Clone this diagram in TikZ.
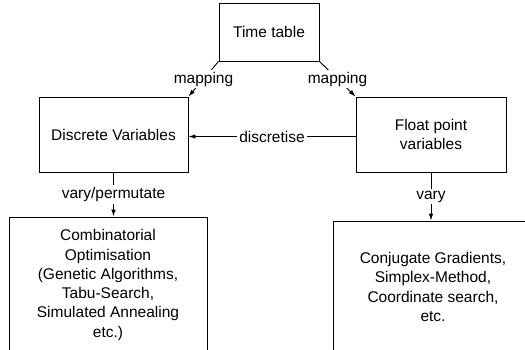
\documentclass[tikz,border=0pt]{standalone}
\usepackage{fontspec}
\setmainfont{Liberation Sans}
\usetikzlibrary{arrows.meta}
\tikzset{
  box/.style={draw, line width=0.9pt, align=center, inner sep=0pt,
    font=\fontsize{15.5}{19.3}\selectfont},
  arr/.style={line width=0.9pt, -{Latex[length=7pt,width=4.5pt]}},
  lbl/.style={fill=white, inner sep=2pt, font=\fontsize{15.5}{19.3}\selectfont}
}
\begin{document}
\begin{tikzpicture}[x=1pt,y=-1pt]
  \useasboundingbox (0,0) rectangle (525,350);
  \clip (0,0) rectangle (525,350);

  % boxes
  \node[box, minimum width=100pt, minimum height=58pt] (tt) at (269,32) {Time table};
  \node[box, minimum width=149pt, minimum height=75pt] (dv) at (113.5,134.5) {Discrete Variables};
  \node[box, minimum width=150pt, minimum height=75pt] (fl) at (431,134.5) {Float point\\variables};
  \node[box, minimum width=198pt, minimum height=136pt] (co) at (108,285)
    {Combinatorial\\Optimisation\\(Genetic Algorithms,\\Tabu-Search,\\Simulated Annealing\\etc.)};
  \node[box, minimum width=200pt, minimum height=132pt] (cg) at (433,287)
    {Conjugate Gradients,\\Simplex-Method,\\Coordinate search,\\etc.};

  % connectors
  \draw[arr] (tt.south west) -- node[lbl] {mapping} (dv.north east);
  \draw[arr] (tt.south east) -- node[lbl] {mapping} (fl.north west);
  \draw[arr] ([yshift=-2pt]fl.west) -- node[lbl] {discretise} ([yshift=-2pt]dv.east);
  \draw[arr] (dv.south) -- node[lbl] {vary/permutate} (dv.south |- co.north);
  \draw[arr] (fl.south) -- node[lbl] {vary} (fl.south |- cg.north);
\end{tikzpicture}
\end{document}
